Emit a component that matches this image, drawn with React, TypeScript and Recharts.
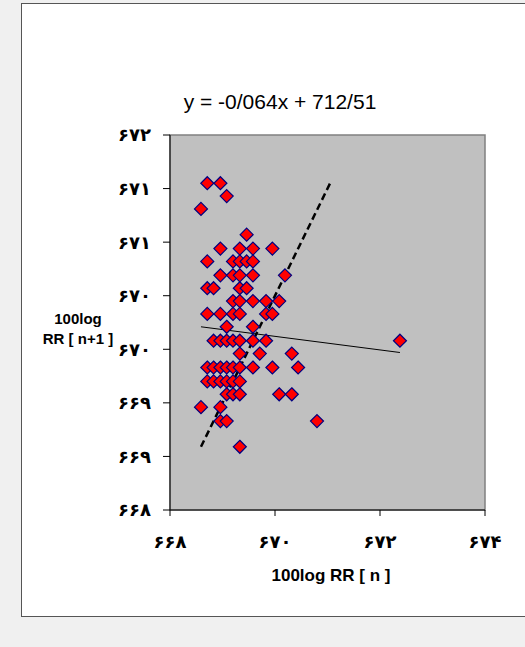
import React from 'react';
import { ScatterChart, Scatter, XAxis, YAxis, ReferenceArea, ReferenceLine } from 'recharts';

// 100log RR[n] (x) and 100log RR[n+1] (y)
const rrN: number[] = [
  668.71, 668.96,
  669.08,
  668.59,
  669.46,
  668.96, 669.33, 669.58, 669.95,
  668.71, 669.2, 669.33, 669.46, 669.58,
  668.96, 669.2, 669.33, 669.58, 670.19,
  668.71, 668.83, 669.33, 669.46,
  669.2, 669.33, 669.58, 669.83, 670.08,
  668.71, 668.96, 669.2, 669.33, 669.83, 669.95,
  669.08, 669.58,
  668.83, 668.96, 669.08, 669.2, 669.33, 669.58, 669.83, 672.38,
  669.33, 669.71, 670.32,
  668.71, 668.83, 668.96, 669.08, 669.2, 669.33, 669.58, 669.95, 670.44,
  668.71, 668.83, 668.96, 669.08, 669.2, 669.33,
  669.08, 669.2, 669.33, 670.08, 670.32,
  668.59, 668.96,
  668.96, 669.08, 670.8,
  669.33,
];

const rrN1: number[] = [
  671.05, 671.05,
  670.93,
  670.81,
  670.57,
  670.44, 670.44, 670.44, 670.44,
  670.32, 670.32, 670.32, 670.32, 670.32,
  670.19, 670.19, 670.19, 670.19, 670.19,
  670.07, 670.07, 670.07, 670.07,
  669.95, 669.95, 669.95, 669.95, 669.95,
  669.83, 669.83, 669.83, 669.83, 669.83, 669.83,
  669.71, 669.71,
  669.58, 669.58, 669.58, 669.58, 669.58, 669.58, 669.58, 669.58,
  669.46, 669.46, 669.46,
  669.33, 669.33, 669.33, 669.33, 669.33, 669.33, 669.33, 669.33, 669.33,
  669.2, 669.2, 669.2, 669.2, 669.2, 669.2,
  669.08, 669.08, 669.08, 669.08, 669.08,
  668.96, 668.96,
  668.83, 668.83, 668.83,
  668.59,
];

// linear trend: y = -0.064x + 712.51, drawn over the data range
const trendX = [668.59, 672.38];
const trendY = [669.71, 669.47];

// identity line y = x
const identityX = [668.59, 671.05];
const identityY = [668.59, 671.05];

const xTicks = [668, 670, 672, 674];
const yTicks = [668, 668.5, 669, 669.5, 670, 670.5, 671, 671.5];

const equation = 'y = -0/064x + 712/51';

const points = rrN.map((x, i) => ({ x, y: rrN1[i] }));

const faDigits = '۰۱۲۳۴۵۶۷۸۹';
const toFa = (v: number) => String(Math.round(v)).replace(/\d/g, d => faDigits[Number(d)]);

const Diamond = (props: any) => {
  const { cx, cy } = props;
  if (cx == null || cy == null) return null;
  const r = 6.5;
  return (
    <path
      d={`M${cx},${cy - r}L${cx + r},${cy}L${cx},${cy + r}L${cx - r},${cy}Z`}
      fill="#ff0000"
      stroke="#000080"
      strokeWidth={1.2}
    />
  );
};

const tickStyle = { fontSize: 18, fill: '#000', fontFamily: '"DejaVu Sans", sans-serif', fontWeight: 'bold' };
const font = '"Liberation Sans", Arial, sans-serif';

export default function App() {
  return (
    <div style={{ position: 'absolute', left: 0, top: 0, width: 525, height: 647, background: '#f0f0f0', overflow: 'hidden' }}>
      <div
        style={{
          position: 'absolute', left: 21, top: 3, width: 504, height: 612,
          background: '#fff', borderLeft: '1px solid #555', borderTop: '1px solid #555', borderBottom: '1px solid #555',
        }}
      />
      <div style={{ position: 'absolute', left: 0, top: 0 }}>
        <ScatterChart width={525} height={647} margin={{ top: 135, right: 40, bottom: 0, left: 0 }}>
          <ReferenceArea x1={668} x2={674} y1={668} y2={671.5} fill="#c0c0c0" fillOpacity={1} stroke="#808080" strokeWidth={1.5} />
          <XAxis
            type="number"
            dataKey="x"
            domain={[668, 674]}
            ticks={xTicks}
            tickFormatter={toFa}
            height={137}
            tick={tickStyle}
            tickSize={6}
            tickMargin={19}
            axisLine={{ stroke: '#000' }}
            tickLine={{ stroke: '#000' }}
            allowDataOverflow
          />
          <YAxis
            type="number"
            dataKey="y"
            domain={[668, 671.5]}
            ticks={yTicks}
            tickFormatter={toFa}
            width={170}
            tick={tickStyle}
            tickSize={7}
            tickMargin={12}
            axisLine={{ stroke: '#000' }}
            tickLine={{ stroke: '#000' }}
            allowDataOverflow
          />
          <Scatter data={points} shape={<Diamond />} isAnimationActive={false} />
          <ReferenceLine
            segment={[{ x: trendX[0], y: trendY[0] }, { x: trendX[1], y: trendY[1] }]}
            stroke="#000"
            strokeWidth={1}
          />
          <ReferenceLine
            segment={[{ x: identityX[0], y: identityY[0] }, { x: identityX[1], y: identityY[1] }]}
            stroke="#000"
            strokeWidth={2.5}
            strokeDasharray="7 4"
          />
        </ScatterChart>
      </div>
      <div style={{ position: 'absolute', left: 130, top: 90, width: 300, textAlign: 'center', fontFamily: font, fontSize: 21, whiteSpace: 'nowrap' }}>
        {equation}
      </div>
      <div style={{ position: 'absolute', left: 23, top: 309, width: 110, textAlign: 'center', fontFamily: font, fontSize: 15, fontWeight: 'bold', lineHeight: '20px' }}>
        <div>100log</div>
        <div>RR [ n+1 ]</div>
      </div>
      <div style={{ position: 'absolute', left: 181, top: 566, width: 300, textAlign: 'center', fontFamily: font, fontSize: 17, fontWeight: 'bold' }}>
        100log RR [ n ]
      </div>
    </div>
  );
}
